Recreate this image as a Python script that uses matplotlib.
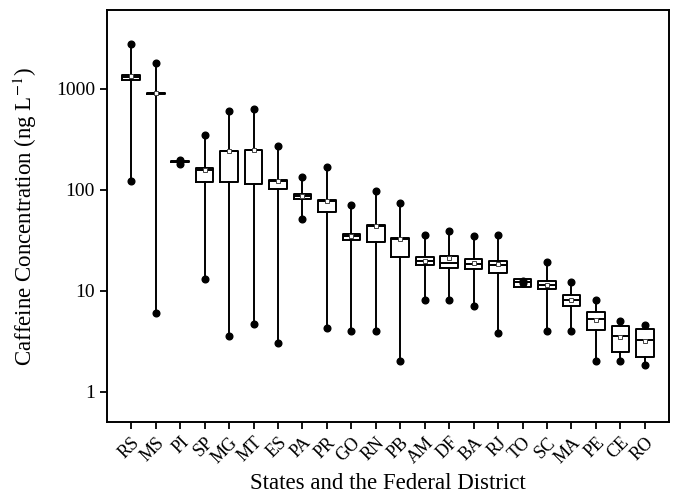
import matplotlib
matplotlib.use("Agg")
import matplotlib.pyplot as plt

plt.rcParams['font.family'] = ['Liberation Serif', 'DejaVu Serif']
plt.rcParams['mathtext.fontset'] = 'stix'

states = ['RS', 'MS', 'PI', 'SP', 'MG', 'MT', 'ES', 'PA', 'PR', 'GO', 'RN',
          'PB', 'AM', 'DF', 'BA', 'RJ', 'TO', 'SC', 'MA', 'PE', 'CE', 'RO']

minimum = [123, 6.05, 182, 13.1, 3.53, 4.74, 3.03, 51.6, 4.24, 4.02, 4.0,
           2.03, 8.1, 8.1, 7.05, 3.84, 11.9, 3.99, 4.0, 2.03, 2.03, 1.82]
q1 = [1230, 895, 188, 120, 119, 114, 101.6, 82, 61, 31.8, 30.4,
      21.6, 18.1, 16.9, 16.4, 15.1, 11.0, 10.5, 7.05, 4.1, 2.5, 2.19]
median = [1320, 906, 190, 158, 240, 248, 122, 86.5, 77, 35, 44,
          32.5, 19.8, 18.8, 18.5, 18.1, 12.2, 11.5, 8.1, 5.3, 3.53, 3.25]
q3 = [1380, 915, 192, 163, 243, 251, 126, 91, 79.6, 36.9, 45.3,
      33.7, 21.6, 22.2, 20.6, 19.8, 13.2, 12.6, 9.1, 6.2, 4.5, 4.2]
maximum = [2790, 1810, 197, 351, 605, 638, 273, 135.5, 170, 71, 98.4,
           74.8, 35.6, 39, 34.8, 36, 12.5, 19.2, 12.2, 8.15, 5.05, 4.57]
mean = [1330, 906, 190, 158, 240, 250, 122, 87, 77, 35, 44,
        32.5, 19.8, 21, 19, 18.6, 12.2, 11.5, 8.1, 5.1, 3.5, 3.2]


def make_stats():
    stats = []
    for i, name in enumerate(states):
        stats.append({
            'label': name,
            'whislo': minimum[i],
            'q1': q1[i],
            'med': median[i],
            'q3': q3[i],
            'whishi': maximum[i],
            'mean': mean[i],
            'fliers': [],
        })
    return stats


def main():
    fig = plt.figure(figsize=(6.76, 4.96), dpi=100)
    ax = fig.add_axes([0.158, 0.149, 0.832, 0.830])

    positions = list(range(1, len(states) + 1))
    lw = 1.4
    ax.bxp(make_stats(), positions=positions, widths=0.72,
           showmeans=True, showcaps=False, showfliers=False,
           boxprops=dict(color='black', linewidth=lw),
           whiskerprops=dict(color='black', linewidth=lw),
           medianprops=dict(color='black', linewidth=lw),
           meanprops=dict(marker='s', markersize=3.5, markerfacecolor='white',
                          markeredgecolor='#444444', markeredgewidth=0.7),
           zorder=2)

    # whisker end dots
    ax.plot(positions, minimum, 'o', color='black', markersize=4.8, zorder=3)
    ax.plot(positions, maximum, 'o', color='black', markersize=4.8, zorder=3)

    ax.set_yscale('log')
    ax.set_ylim(0.5, 6000)
    ax.set_yticks([1, 10, 100, 1000])
    ax.set_yticklabels(['1', '10', '100', '1000'])
    ax.minorticks_off()
    ax.set_xlim(0, 23)
    ax.set_xticks(positions)
    ax.set_xticklabels(states, rotation=45, ha='right', rotation_mode='anchor',
                       fontsize=13)

    ax.tick_params(axis='both', direction='out', length=5, width=1.3, color='black')
    ax.tick_params(axis='y', labelsize=14)
    for spine in ax.spines.values():
        spine.set_linewidth(1.4)

    ax.set_ylabel('Caffeine Concentration (ng L$^{-1}$)', fontsize=16.5, labelpad=12)
    ax.set_xlabel('States and the Federal District', fontsize=16.5, labelpad=5)

    fig.savefig('out.png', dpi=100)
    plt.close(fig)


if __name__ == "__main__":
    main()
